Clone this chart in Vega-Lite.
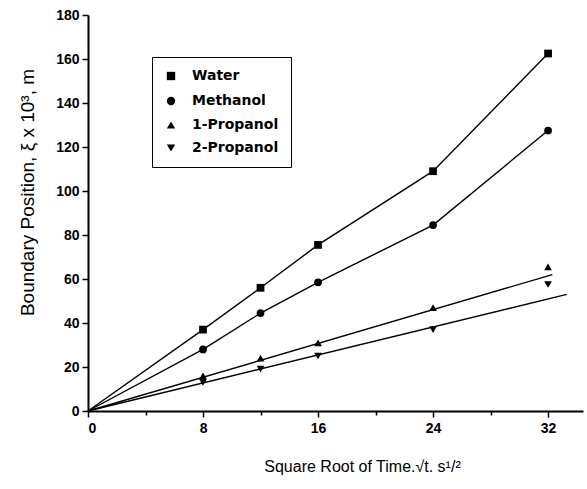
{
  "$schema": "https://vega.github.io/schema/vega-lite/v6.json",
  "autosize": {"type": "none"},
  "width": 495,
  "height": 396,
  "padding": {"left": 88, "top": 15, "right": 4, "bottom": 78},
  "background": "white",
  "datasets": {
    "points": [
      {"series": "Water", "x": 8, "y": 37},
      {"series": "Water", "x": 12, "y": 56},
      {"series": "Water", "x": 16, "y": 75.5},
      {"series": "Water", "x": 24, "y": 109},
      {"series": "Water", "x": 32, "y": 162.5},
      {"series": "Methanol", "x": 8, "y": 28},
      {"series": "Methanol", "x": 12, "y": 44.5},
      {"series": "Methanol", "x": 16, "y": 58.5},
      {"series": "Methanol", "x": 24, "y": 84.5},
      {"series": "Methanol", "x": 32, "y": 127.5},
      {"series": "1-Propanol", "x": 8, "y": 16},
      {"series": "1-Propanol", "x": 12, "y": 24},
      {"series": "1-Propanol", "x": 16, "y": 31},
      {"series": "1-Propanol", "x": 24, "y": 47},
      {"series": "1-Propanol", "x": 32, "y": 65.5},
      {"series": "2-Propanol", "x": 8, "y": 13},
      {"series": "2-Propanol", "x": 12, "y": 19},
      {"series": "2-Propanol", "x": 16, "y": 25},
      {"series": "2-Propanol", "x": 24, "y": 37},
      {"series": "2-Propanol", "x": 32, "y": 57.5}
    ],
    "fits": [
      {"series": "Water", "x": 0, "y": 0},
      {"series": "Water", "x": 8, "y": 37},
      {"series": "Water", "x": 12, "y": 56},
      {"series": "Water", "x": 16, "y": 75.5},
      {"series": "Water", "x": 24, "y": 109},
      {"series": "Water", "x": 32, "y": 162.5},
      {"series": "Methanol", "x": 0, "y": 0},
      {"series": "Methanol", "x": 8, "y": 28},
      {"series": "Methanol", "x": 12, "y": 44.5},
      {"series": "Methanol", "x": 16, "y": 58.5},
      {"series": "Methanol", "x": 24, "y": 84.5},
      {"series": "Methanol", "x": 32, "y": 127.5},
      {"series": "1-Propanol", "x": 0, "y": 0},
      {"series": "1-Propanol", "x": 32.3, "y": 62},
      {"series": "2-Propanol", "x": 0, "y": 0},
      {"series": "2-Propanol", "x": 33.3, "y": 53}
    ]
  },
  "layer": [
    {
      "data": {"name": "fits"},
      "mark": {"type": "line", "color": "black", "strokeWidth": 1.4},
      "encoding": {
        "x": {"field": "x", "type": "quantitative"},
        "y": {"field": "y", "type": "quantitative"},
        "detail": {"field": "series"}
      }
    },
    {
      "data": {"name": "points"},
      "mark": {"type": "point", "filled": true, "color": "black", "opacity": 1, "size": 60},
      "encoding": {
        "x": {
          "field": "x", "type": "quantitative",
          "scale": {"domain": [0, 34.43], "nice": false, "zero": false},
          "axis": {
            "title": "Square Root of Time.\u221at. s\u00b9/\u00b2",
            "values": [0, 4, 8, 12, 16, 20, 24, 28, 32],
            "labelExpr": "datum.value % 8 === 0 ? datum.label : ''",
            "tickSize": {"condition": {"test": "datum.value % 8 === 0", "value": 6}, "value": 4},
            "titleX": 274,
            "titleY": 55,
            "titleBaseline": "middle"
          }
        },
        "y": {
          "field": "y", "type": "quantitative",
          "scale": {"domain": [0, 180], "nice": false},
          "axis": {
            "title": "Boundary  Position, \u03be x 10\u00b3, m",
            "values": [0, 10, 20, 30, 40, 50, 60, 70, 80, 90, 100, 110, 120, 130, 140, 150, 160, 170, 180],
            "labelExpr": "datum.value % 20 === 0 ? datum.label : ''",
            "tickSize": {"condition": {"test": "datum.value % 20 === 0", "value": 6}, "value": 4},
            "titleX": -61,
            "titleY": 177,
            "titleBaseline": "middle"
          }
        },
        "shape": {
          "field": "series", "type": "nominal",
          "scale": {
            "domain": ["Water", "Methanol", "1-Propanol", "2-Propanol"],
            "range": ["square", "circle", "triangle-up", "triangle-down"]
          },
          "legend": {
            "title": null,
            "orient": "none",
            "legendX": 64,
            "legendY": 42,
            "strokeColor": "black",
            "padding": 12,
            "labelFont": "DejaVu Sans",
            "labelFontSize": 14,
            "labelFontWeight": "bold",
            "labelColor": "black",
            "labelOffset": 14,
            "rowPadding": 9,
            "symbolSize": 70,
            "symbolFillColor": "black",
            "symbolStrokeColor": "black"
          }
        }
      }
    }
  ],
  "config": {
    "view": {"stroke": null},
    "axis": {
      "grid": false,
      "domainColor": "black",
      "domainWidth": 2,
      "tickColor": "black",
      "tickWidth": 1.5,
      "labelFont": "Liberation Sans",
      "labelFontSize": 14,
      "labelFontWeight": "bold",
      "labelColor": "black",
      "labelPadding": 3,
      "titleFont": "Liberation Sans",
      "titleFontSize": 19,
      "titleFontWeight": "normal",
      "titleColor": "black"
    },
    "axisX": {"titleFontSize": 16, "labelPadding": 4}
  }
}
